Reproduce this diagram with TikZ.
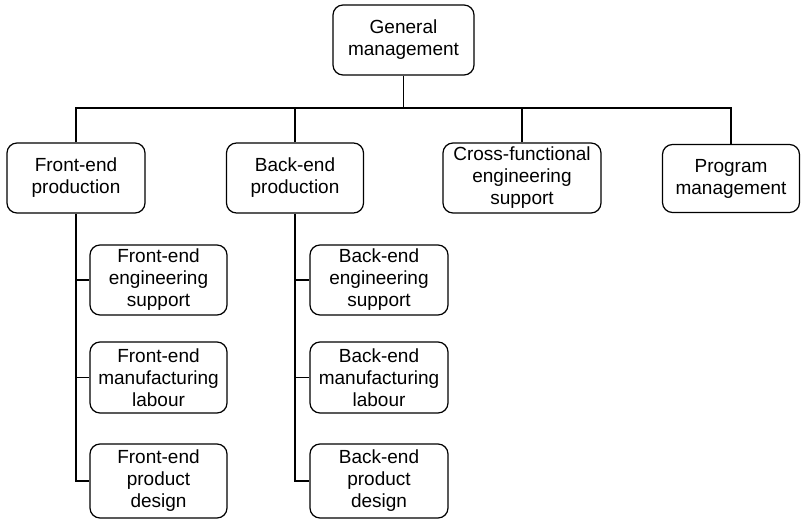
\documentclass[tikz,border=0pt]{standalone}
\usepackage{fontspec}
\setmainfont{Liberation Sans}
\begin{document}
\begin{tikzpicture}[x=1pt,y=-1pt,
  box/.style={draw=black, line width=1.2pt, rounded corners=10pt, align=center,
    inner sep=0pt, font=\fontsize{19}{22}\selectfont},
  link/.style={draw=black, line width=1.2pt}]
\useasboundingbox (0,0) rectangle (801,521);
% top
\node[box, minimum width=141pt, minimum height=70pt] (gm) at (403.5,40) {General\\management};
% level 2
\node[box, minimum width=138pt, minimum height=70pt] (fe) at (76,178) {Front-end\\production};
\node[box, minimum width=137pt, minimum height=70pt] (be) at (295,178) {Back-end\\production};
\node[box, minimum width=158pt, minimum height=70pt] (cf) at (522,178) {Cross-functional\\engineering\\support};
\node[box, minimum width=137pt, minimum height=68pt] (pm) at (731,178.5) {Program\\management};
% front-end subs
\node[box, minimum width=137pt, minimum height=70pt] (fe1) at (158.5,280) {Front-end\\engineering\\support};
\node[box, minimum width=137pt, minimum height=71pt] (fe2) at (158.5,377.5) {Front-end\\manufacturing\\labour};
\node[box, minimum width=137pt, minimum height=74pt] (fe3) at (158.5,481) {Front-end\\product\\design};
% back-end subs
\node[box, minimum width=138pt, minimum height=70pt] (be1) at (379,280) {Back-end\\engineering\\support};
\node[box, minimum width=138pt, minimum height=71pt] (be2) at (379,377.5) {Back-end\\manufacturing\\labour};
\node[box, minimum width=138pt, minimum height=74pt] (be3) at (379,481) {Back-end\\product\\design};
% bus
\coordinate (bus) at (0,108);
\draw[link] (gm.south) -- (gm.south |- bus);
\draw[link] (fe.north) -- (fe.north |- bus) -- (pm.north |- bus) -- (pm.north);
\draw[link] (be.north) -- (be.north |- bus);
\draw[link] (cf.north) -- (cf.north |- bus);
% spines
\draw[link] (fe.south) |- (fe3.west);
\draw[link] (fe.south |- fe1.west) -- (fe1.west);
\draw[link] (fe.south |- fe2.west) -- (fe2.west);
\draw[link] (be.south) |- (be3.west);
\draw[link] (be.south |- be1.west) -- (be1.west);
\draw[link] (be.south |- be2.west) -- (be2.west);
\end{tikzpicture}
\end{document}
